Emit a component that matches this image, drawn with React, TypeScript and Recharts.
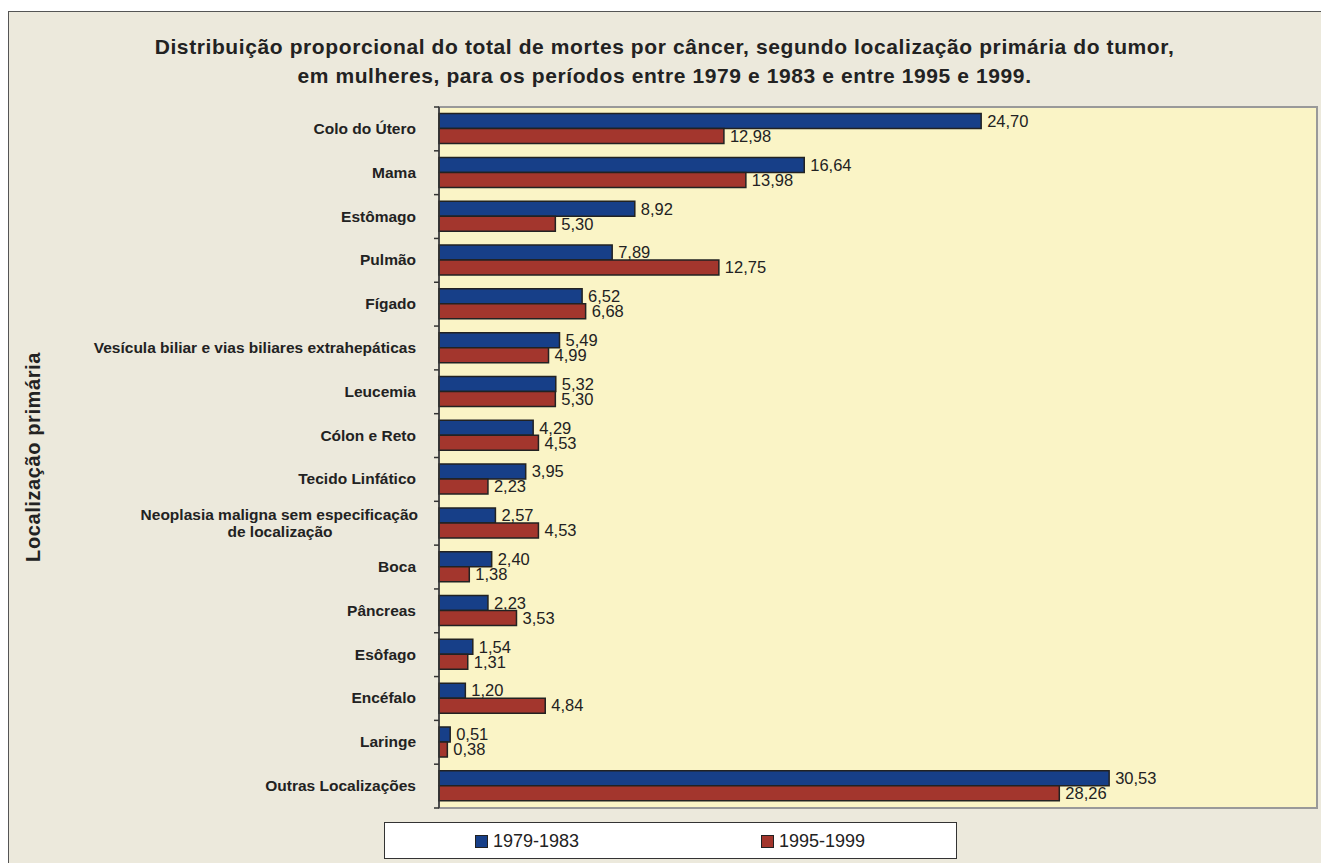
import React from "react"
import { BarChart, Bar, XAxis, YAxis, CartesianGrid, ReferenceArea, LabelList } from "recharts"

const categories = [
  "Colo do Útero",
  "Mama",
  "Estômago",
  "Pulmão",
  "Fígado",
  "Vesícula biliar e vias biliares extrahepáticas",
  "Leucemia",
  "Cólon e Reto",
  "Tecido Linfático",
  "Neoplasia maligna sem especificação\nde localização",
  "Boca",
  "Pâncreas",
  "Esôfago",
  "Encéfalo",
  "Laringe",
  "Outras Localizações",
]

const period1 = [24.7, 16.64, 8.92, 7.89, 6.52, 5.49, 5.32, 4.29, 3.95, 2.57, 2.4, 2.23, 1.54, 1.2, 0.51, 30.53]
const period2 = [12.98, 13.98, 5.3, 12.75, 6.68, 4.99, 5.3, 4.53, 2.23, 4.53, 1.38, 3.53, 1.31, 4.84, 0.38, 28.26]

const seriesNames = ["1979-1983", "1995-1999"]

const rows = categories.map((name, i) => ({ name, p1: period1[i], p2: period2[i] }))

const FONT = '"Liberation Sans", Arial, Helvetica, sans-serif'
const BLUE = "#173F88"
const RED = "#A3362D"
const PLOT_TOP = 107
const PLOT_BOTTOM = 808
const AXIS_X = 439
const BAND = (PLOT_BOTTOM - PLOT_TOP) / categories.length

const fmt = (v: number) => v.toFixed(2).replace(".", ",")

function CatTick(props: any) {
  const { y, payload, index } = props
  const lines = String(payload.value).split("\n")
  const top = y - BAND / 2
  return (
    <g>
      <line x1={AXIS_X - 5} x2={AXIS_X} y1={top} y2={top} stroke="#333" strokeWidth={1.5} />
      {index === categories.length - 1 && (
        <line x1={AXIS_X - 5} x2={AXIS_X} y1={y + BAND / 2} y2={y + BAND / 2} stroke="#333" strokeWidth={1.5} />
      )}
      {lines.length === 1 ? (
        <text x={416} y={y} dy={5} textAnchor="end" fontFamily={FONT} fontWeight="bold" fontSize={15.5} fill="#222">
          {lines[0]}
        </text>
      ) : (
        lines.map((l, k) => (
          <text
            key={k}
            x={k === 0 ? 418 : 280}
            y={y + (k - (lines.length - 1) / 2) * 17}
            dy={5}
            textAnchor={k === 0 ? "end" : "middle"}
            fontFamily={FONT}
            fontWeight="bold"
            fontSize={15.5}
            fill="#222"
          >
            {l}
          </text>
        ))
      )}
    </g>
  )
}

export default function App() {
  return (
    <div style={{ position: "absolute", left: 0, top: 0, width: 1321, height: 863, overflow: "hidden", background: "#fff", fontFamily: FONT }}>
      <div style={{ position: "absolute", left: 8, top: 11, width: 1330, height: 870, background: "#ECE9DC", border: "1px solid #555" }} />
      <div
        style={{
          position: "absolute",
          left: 8,
          top: 32,
          width: 1313,
          textAlign: "center",
          fontWeight: "bold",
          fontSize: 21,
          letterSpacing: 0.6,
          lineHeight: "29px",
          color: "#222",
        }}
      >
        Distribuição proporcional do total de mortes por câncer, segundo localização primária do tumor,
        <br />
        em mulheres, para os períodos entre 1979 e 1983 e entre 1995 e 1999.
      </div>
      <div
        style={{
          position: "absolute",
          left: 33,
          top: 457,
          transform: "translate(-50%, -50%) rotate(-90deg)",
          whiteSpace: "nowrap",
          fontWeight: "bold",
          fontSize: 20,
          letterSpacing: 0.6,
          color: "#222",
        }}
      >
        Localização primária
      </div>
      <div style={{ position: "absolute", left: 0, top: 0 }}>
        <BarChart
          width={1321}
          height={863}
          data={rows}
          layout="vertical"
          margin={{ top: PLOT_TOP, right: 4, bottom: 863 - PLOT_BOTTOM, left: 0 }}
          barCategoryGap="15%"
          barGap={0}
        >
          <CartesianGrid horizontal={false} vertical={false} fill="#FAF4C6" />
          <ReferenceArea x1={0} x2={40} fill="none" stroke="#999" strokeWidth={2} />
          <XAxis type="number" domain={[0, 40]} hide />
          <YAxis
            type="category"
            dataKey="name"
            width={AXIS_X}
            interval={0}
            axisLine={{ stroke: "#333", strokeWidth: 1.5 }}
            tickLine={false}
            tick={<CatTick />}
          />
          <Bar dataKey="p1" name={seriesNames[0]} fill={BLUE} stroke="#222" strokeWidth={1.5} isAnimationActive={false}>
            <LabelList dataKey="p1" position="right" offset={6} formatter={fmt} style={{ fontFamily: FONT, fontSize: 16.5, fill: "#222" }} />
          </Bar>
          <Bar dataKey="p2" name={seriesNames[1]} fill={RED} stroke="#222" strokeWidth={1.5} isAnimationActive={false}>
            <LabelList dataKey="p2" position="right" offset={6} formatter={fmt} style={{ fontFamily: FONT, fontSize: 16.5, fill: "#222" }} />
          </Bar>
        </BarChart>
      </div>
      <div style={{ position: "absolute", left: 384, top: 822, width: 571, height: 35, background: "#fff", border: "1.5px solid #333" }}>
        {seriesNames.map((s, i) => (
          <div key={s} style={{ position: "absolute", left: i === 0 ? 90 : 376, top: 8, display: "flex", alignItems: "center", fontSize: 18, color: "#222" }}>
            <span style={{ display: "inline-block", width: 11, height: 11, background: i === 0 ? BLUE : RED, border: "1px solid #222", marginRight: 5 }} />
            {s}
          </div>
        ))}
      </div>
    </div>
  )
}
